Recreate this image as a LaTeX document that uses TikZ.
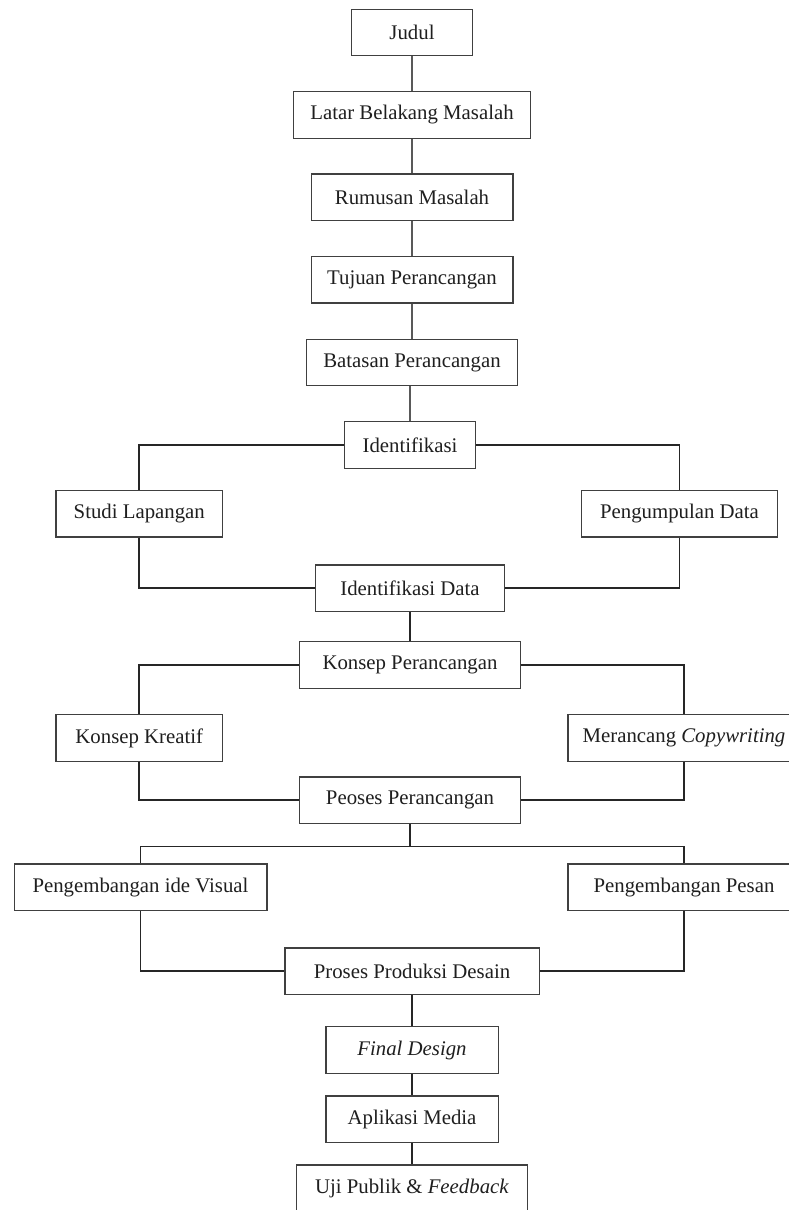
\documentclass[tikz,border=0pt]{standalone}
\usepackage{fontspec}
\setmainfont{Liberation Serif}
\begin{document}
\begin{tikzpicture}[x=1pt,y=-1pt,
  box/.style={draw=black!75, line width=1.3pt, fill=white, inner sep=0pt,
    minimum height=46.5pt, font=\fontsize{20.8}{24}\selectfont, text=black!88, anchor=center},
  conn/.style={draw=black!85, line width=1.7pt},
  spine/.style={draw=black!65, line width=1.2pt}]
\useasboundingbox (0,0) rectangle (789,1210);
\clip (0,0) rectangle (789,1210);
\fill[white] (0,0) rectangle (789,1210);

% central column
\node[box, minimum width=120.6pt] (judul) at (412,32.5) {Judul};
\node[box, minimum width=237.4pt] (latar) at (412,115) {Latar Belakang Masalah};
\node[box, minimum width=201.7pt] (rumusan) at (412,197.3) {Rumusan Masalah};
\node[box, minimum width=201.7pt] (tujuan) at (412,279.7) {Tujuan Perancangan};
\node[box, minimum width=211.3pt] (batasan) at (412,362.5) {Batasan Perancangan};
\node[box, minimum width=131.5pt] (iden) at (410,445) {Identifikasi};
\node[box, minimum width=166.5pt] (studi) at (139.3,513.7) {Studi Lapangan};
\node[box, minimum width=196pt] (kumpul) at (679.5,513.7) {Pengumpulan Data};
\node[box, minimum width=188.5pt] (idata) at (410,588.3) {Identifikasi Data};
\node[box, minimum width=221.5pt] (konsep) at (410,665) {Konsep Perancangan};
\node[box, minimum width=166.5pt] (kreatif) at (139.3,738) {Konsep Kreatif};
\node[box, minimum width=232pt] (copy) at (684,738) {Merancang \textit{Copywriting}};
\node[box, minimum width=221.5pt] (peoses) at (410,800.3) {Peoses Perancangan};
\node[box, minimum width=252.7pt] (visual) at (140.5,887.3) {Pengembangan ide Visual};
\node[box, minimum width=232pt] (pesan) at (684,887.3) {Pengembangan Pesan};
\node[box, minimum width=254.3pt] (produksi) at (412,971.3) {Proses Produksi Desain};
\node[box, minimum width=172.3pt] (final) at (412,1050) {\textit{Final Design}};
\node[box, minimum width=172.3pt] (aplikasi) at (412,1119.2) {Aplikasi Media};
\node[box, minimum width=231pt] (uji) at (412,1188.3) {Uji Publik \& \textit{Feedback}};

\coordinate (split) at (410,846.5);

% spine connectors
\draw[spine] (judul.south) -- (latar.north);
\draw[spine] (latar.south) -- (rumusan.north);
\draw[spine] (rumusan.south) -- (tujuan.north);
\draw[spine] (tujuan.south) -- (batasan.north);
\draw[spine] (batasan.south -| iden.north) -- (iden.north);

% identifikasi branch
\draw[conn] (iden.west) -| (studi.north);
\draw[conn] (iden.east) -| (kumpul.north);
\draw[conn] (studi.south) |- (idata.west);
\draw[conn] (kumpul.south) |- (idata.east);
\draw[conn] (idata.south) -- (konsep.north);

% konsep branch
\draw[conn] (konsep.west) -| (kreatif.north);
\draw[conn] (konsep.east) -| (copy.north);
\draw[conn] (kreatif.south) |- (peoses.west);
\draw[conn] (copy.south) |- (peoses.east);

% proses branch
\draw[conn] (peoses.south) -- (split);
\draw[conn] (visual.north) |- (split) -| (pesan.north);
\draw[conn] (visual.south) |- (produksi.west);
\draw[conn] (pesan.south) |- (produksi.east);

% bottom chain
\draw[conn] (produksi.south) -- (final.north);
\draw[conn] (final.south) -- (aplikasi.north);
\draw[conn] (aplikasi.south) -- (uji.north);
\end{tikzpicture}
\end{document}
